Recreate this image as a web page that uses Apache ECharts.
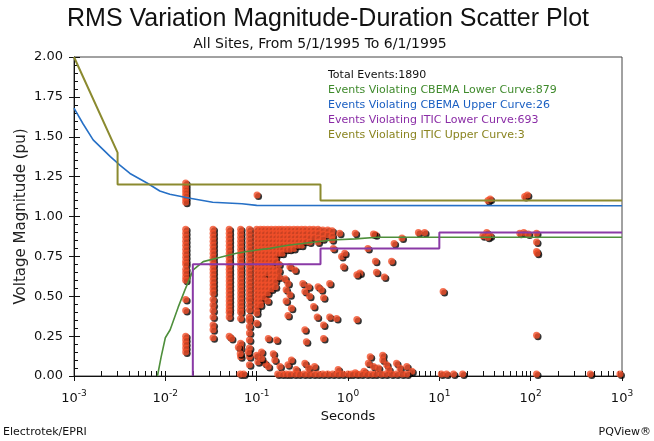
<!DOCTYPE html>
<html><head><meta charset="utf-8">
<script src="https://cdn.jsdelivr.net/npm/echarts@6/dist/echarts.min.js"></script>
<style>html,body{margin:0;padding:0;background:#fff}#c{width:654px;height:441px}</style>
</head><body><div id="c"></div>
<script>
// ---------- texts ----------
const titleText = 'RMS Variation Magnitude-Duration Scatter Plot';
const subtitleText = 'All Sites, From 5/1/1995 To 6/1/1995';
const summaryLines = [
  'Total Events:1890',
  'Events Violating CBEMA Lower Curve:879',
  'Events Violating CBEMA Upper Curve:26',
  'Events Violating ITIC Lower Curve:693',
  'Events Violating ITIC Upper Curve:3'
];
const summaryColors = ['#111111', '#3f8a2c', '#1a5fc2', '#8a2ca6', '#8a8420'];
const xTickExponents = ['-3', '-2', '-1', '0', '1', '2', '3'];
const yTickLabels = ['0.00', '0.25', '0.50', '0.75', '1.00', '1.25', '1.50', '1.75', '2.00'];

// ---------- tolerance curves [seconds, pu] ----------
const iticUpper = [[0.001, 2.0], [0.003, 1.4], [0.003, 1.2], [0.5, 1.2], [0.5, 1.1], [1000, 1.1]];
const iticLower = [[0.02, 0], [0.02, 0.7], [0.5, 0.7], [0.5, 0.8], [10, 0.8], [10, 0.9], [1000, 0.9]];
const cbemaUpper = [[0.001, 1.68], [0.00126, 1.58], [0.00162, 1.48], [0.0025, 1.375], [0.0032, 1.32],
  [0.0041, 1.27], [0.0063, 1.21], [0.0087, 1.16], [0.0112, 1.14], [0.0186, 1.114], [0.033, 1.089],
  [0.069, 1.08], [0.1, 1.07], [1000, 1.067]];
const cbemaLower = [[0.0082, 0], [0.009, 0.12], [0.01, 0.24], [0.0113, 0.29], [0.0138, 0.43],
  [0.0164, 0.54], [0.0202, 0.665], [0.026, 0.717], [0.04, 0.744], [0.06, 0.77], [0.1, 0.79],
  [0.14, 0.80], [0.22, 0.82], [0.66, 0.853], [1.2, 0.86], [2.1, 0.87], [1000, 0.87]];

// ---------- events: fixed-duration columns (seconds, magnitudes pu) ----------
const columnDurations = [0.0167, 0.0333, 0.05, 0.0667, 0.0833];
const col1CycleMags = [1.21, 1.19, 1.17, 1.15, 1.13, 1.11, 1.09,
  0.92, 0.895, 0.87, 0.845, 0.82, 0.795, 0.77, 0.745, 0.72, 0.70, 0.67, 0.645, 0.62, 0.60,
  0.48, 0.41, 0.25, 0.225, 0.20, 0.175, 0.15];
const col2CycleMags = [0.92, 0.895, 0.87, 0.845, 0.82, 0.795, 0.77, 0.745, 0.72, 0.695, 0.67, 0.645,
  0.62, 0.595, 0.57, 0.545, 0.52, 0.48, 0.445, 0.41, 0.37, 0.32, 0.29, 0.24];
const col3CycleMags = [0.92, 0.895, 0.87, 0.845, 0.82, 0.795, 0.77, 0.745, 0.72, 0.695, 0.67, 0.645,
  0.62, 0.595, 0.57, 0.545, 0.52, 0.495, 0.47, 0.445, 0.42, 0.40, 0.37, 0.25];
const col4CycleMags = [0.92, 0.895, 0.87, 0.845, 0.82, 0.795, 0.77, 0.745, 0.72, 0.695, 0.67, 0.645,
  0.62, 0.595, 0.57, 0.545, 0.52, 0.495, 0.47, 0.445, 0.42, 0.40, 0.36, 0.205, 0.175, 0.12];
const col5CycleMags = [0.92, 0.895, 0.87, 0.845, 0.82, 0.795, 0.77, 0.745, 0.72, 0.695, 0.67, 0.645,
  0.62, 0.595, 0.57, 0.545, 0.52, 0.495, 0.475, 0.445, 0.415, 0.37, 0.35, 0.31, 0.27, 0.225, 0.175, 0.12, 0.07];

// ---------- events: dense cluster (durations and magnitudes) ----------
const denseDurations = [0.10, 0.11, 0.12, 0.132, 0.145, 0.16, 0.175, 0.19, 0.21, 0.23, 0.255, 0.28,
  0.31, 0.34, 0.38, 0.42, 0.47, 0.53, 0.60, 0.67];
const denseMags = [
  [0.92, 0.895, 0.87, 0.845, 0.82, 0.795, 0.77, 0.745, 0.72, 0.695, 0.67, 0.645, 0.62, 0.595, 0.57, 0.545, 0.52, 0.495, 0.47, 0.445, 0.42, 0.395, 0.33],
  [0.92, 0.895, 0.87, 0.845, 0.82, 0.795, 0.77, 0.745, 0.72, 0.695, 0.67, 0.645, 0.62, 0.595, 0.57, 0.545, 0.52, 0.495, 0.47, 0.445],
  [0.92, 0.895, 0.87, 0.845, 0.82, 0.795, 0.77, 0.745, 0.72, 0.695, 0.67, 0.645, 0.62, 0.595, 0.57, 0.545, 0.52, 0.495],
  [0.92, 0.895, 0.87, 0.845, 0.82, 0.795, 0.77, 0.745, 0.72, 0.695, 0.67, 0.645, 0.595, 0.57, 0.545, 0.52, 0.47],
  [0.92, 0.895, 0.87, 0.845, 0.82, 0.795, 0.77, 0.745, 0.72, 0.695, 0.67, 0.645, 0.62, 0.595, 0.57, 0.545],
  [0.92, 0.895, 0.87, 0.845, 0.82, 0.795, 0.77, 0.745, 0.72, 0.67, 0.645, 0.62, 0.595, 0.56],
  [0.92, 0.895, 0.87, 0.845, 0.82, 0.795, 0.77, 0.70, 0.66, 0.62],
  [0.92, 0.895, 0.87, 0.845, 0.82, 0.795, 0.77],
  [0.92, 0.895, 0.87, 0.845, 0.82, 0.795],
  [0.92, 0.895, 0.87, 0.845, 0.82, 0.795],
  [0.92, 0.895, 0.87, 0.845, 0.82, 0.80],
  [0.92, 0.895, 0.87, 0.845, 0.82],
  [0.92, 0.895, 0.87, 0.845, 0.82],
  [0.92, 0.895, 0.87, 0.845],
  [0.92, 0.895, 0.87, 0.84],
  [0.92, 0.895, 0.87],
  [0.92, 0.895, 0.865, 0.84],
  [0.915, 0.89, 0.86],
  [0.915, 0.885],
  [0.91, 0.88, 0.855]
];

// ---------- events: individual scattered events [seconds, pu] ----------
const swellEvents = [[0.101, 1.135], [34, 1.10], [36, 1.11], [86, 1.125], [92, 1.135]];
const sagEvents = [
  [0.231, 0.685], [0.262, 0.665], [0.204, 0.61], [0.22, 0.58], [0.21, 0.54], [0.231, 0.51], [0.21, 0.47],
  [0.24, 0.425], [0.22, 0.38], [0.32, 0.58], [0.37, 0.56], [0.337, 0.53], [0.38, 0.50], [0.47, 0.56],
  [0.51, 0.54], [0.63, 0.58], [0.54, 0.49], [0.42, 0.435], [0.46, 0.37], [0.54, 0.32], [0.63, 0.37],
  [0.75, 0.36], [0.337, 0.29], [0.35, 0.215], [0.54, 0.235], [0.85, 0.75], [0.89, 0.685], [0.69, 0.80],
  [0.81, 0.895], [0.134, 0.235], [0.165, 0.225], [0.10, 0.13], [0.113, 0.15], [0.152, 0.14],
  [0.123, 0.08], [0.158, 0.10], [0.18, 0.06], [0.22, 0.07], [0.24, 0.10], [0.27, 0.04], [0.337, 0.08],
  [0.37, 0.05], [0.43, 0.06], [0.78, 0.04], [0.103, 0.09], [0.113, 0.11], [0.134, 0.06], [0.063, 0.18],
  [0.066, 0.14], [0.081, 0.15], [0.053, 0.235],
  [1.2, 0.895], [2.0, 0.885], [1.9, 0.89], [3.9, 0.865], [5.9, 0.90], [6.9, 0.90], [3.2, 0.83],
  [1.65, 0.80], [0.92, 0.77], [2.0, 0.72], [3.0, 0.72], [1.35, 0.645], [1.25, 0.635], [2.05, 0.65],
  [2.5, 0.62], [11.0, 0.53], [1.25, 0.355],
  [1.75, 0.12], [2.4, 0.13], [2.4, 0.10], [1.67, 0.08], [1.9, 0.06], [2.15, 0.05], [2.65, 0.07],
  [2.8, 0.04], [3.4, 0.08], [3.7, 0.05], [4.4, 0.06], [5.0, 0.03], [1.5, 0.03], [1.2, 0.02],
  [30, 0.88], [33, 0.90], [36, 0.88], [34, 0.87], [76, 0.895], [84, 0.90], [94, 0.89],
  [116, 0.895], [116, 0.84], [116, 0.78], [118, 0.77], [116, 0.255]
];
const interruptionDurations = [0.066, 0.072, 0.17, 0.19, 0.21, 0.23, 0.26, 0.29, 0.33, 0.37, 0.42, 0.47,
  0.53, 0.6, 0.68, 0.77, 0.87, 1.0, 1.1, 1.25, 1.4, 1.6, 1.8, 2.0, 2.3, 2.6, 3.0, 3.4, 3.9, 4.4,
  10.5, 12, 14.3, 18, 116, 450, 950];
const interruptionMag = 0.012;

// ---------- build event list ----------
const columnMags = [col1CycleMags, col2CycleMags, col3CycleMags, col4CycleMags, col5CycleMags];
const events = [];
columnDurations.forEach((d, i) => columnMags[i].forEach(v => events.push([d, v])));
denseDurations.forEach((d, i) => denseMags[i].forEach(v => events.push([d, v])));
swellEvents.forEach(p => events.push(p));
sagEvents.forEach(p => events.push(p));
interruptionDurations.forEach(d => events.push([d, interruptionMag]));

// minor tick positions (log decades 1..9) for the decoration axis
const minorTickPos = [];
for (let n = -3; n < 3; n++) for (let k = 1; k <= 9; k++) minorTickPos.push(n + Math.log10(k));
minorTickPos.push(3);

const FONT = '"Liberation Sans", Arial, sans-serif';
const WFONT = '"DejaVu Sans", Verdana, sans-serif';
const GRID = { left: 74, top: 57, width: 548, height: 319 };

const chart = echarts.init(document.getElementById('c'), null, { renderer: 'canvas' });
chart.setOption({
  animation: false,
  backgroundColor: '#ffffff',
  textStyle: { fontFamily: WFONT },
  grid: [
    Object.assign({ show: true, borderColor: '#444', borderWidth: 1, backgroundColor: 'transparent' }, GRID),
    Object.assign({ show: false }, GRID)
  ],
  xAxis: [
    {
      gridIndex: 0, type: 'log', logBase: 10, min: 0.001, max: 1000,
      name: 'Seconds', nameLocation: 'middle', nameGap: 31,
      nameTextStyle: { fontSize: 13, color: '#111', fontFamily: WFONT },
      axisLine: { onZero: false, lineStyle: { color: '#111', width: 1 } },
      axisTick: { show: true, inside: false, length: 5, lineStyle: { color: '#111' } },
      splitLine: { show: false }, minorTick: { show: false },
      axisLabel: {
        margin: 13, color: '#111', fontFamily: WFONT,
        formatter: function (v) {
          const idx = Math.round(Math.log10(v)) + 3;
          return '{b|10}{s|' + xTickExponents[idx] + '}';
        },
        rich: {
          b: { fontSize: 13, color: '#111', fontFamily: WFONT, verticalAlign: 'bottom', lineHeight: 16 },
          s: { fontSize: 9, color: '#111', fontFamily: WFONT, verticalAlign: 'top', lineHeight: 16, padding: [0, 0, 6, 0] }
        }
      }
    },
    {
      gridIndex: 1, type: 'value', min: -3, max: 3, show: true,
      axisLine: { show: false, onZero: false }, axisLabel: { show: false }, splitLine: { show: false },
      axisTick: { show: true, inside: true, length: 5, customValues: minorTickPos, lineStyle: { color: '#111' } }
    }
  ],
  yAxis: [
    {
      gridIndex: 0, type: 'value', min: 0, max: 2, interval: 0.25,
      name: 'Voltage Magnitude (pu)', nameLocation: 'middle', nameGap: 45, nameRotate: 90,
      nameMoveOverlap: false,
      nameTextStyle: { fontSize: 15, color: '#222', fontFamily: WFONT },
      axisLine: { show: true, onZero: false, lineStyle: { color: '#111', width: 1 } },
      axisTick: { show: true, inside: false, length: 5, lineStyle: { color: '#111' } },
      splitLine: { show: false },
      axisLabel: {
        margin: 11, fontSize: 13, color: '#111', fontFamily: WFONT,
        formatter: function (v) { return yTickLabels[Math.round(v / 0.25)]; }
      }
    },
    {
      gridIndex: 1, type: 'value', min: 0, max: 2, interval: 0.25, show: true,
      axisLine: { show: false, onZero: false }, axisLabel: { show: false }, splitLine: { show: false },
      axisTick: { show: true, inside: true, length: 6, lineStyle: { color: '#111' } },
      minorTick: { show: true, splitNumber: 5, length: 4, lineStyle: { color: '#111' } }
    }
  ],
  series: [
    {
      type: 'scatter', xAxisIndex: 0, yAxisIndex: 0, data: events, symbolSize: 7, z: 2,
      itemStyle: { color: '#f4502a', shadowColor: '#000', shadowOffsetX: 1.5, shadowOffsetY: 1.5, shadowBlur: 0 }
    },
    { type: 'line', data: cbemaLower, showSymbol: false, z: 3, lineStyle: { color: '#4e8f3b', width: 1.6 } },
    { type: 'line', data: cbemaUpper, showSymbol: false, z: 3, lineStyle: { color: '#2670c6', width: 1.6 } },
    { type: 'line', data: iticLower, showSymbol: false, z: 3, lineStyle: { color: '#8a3aa6', width: 2 } },
    { type: 'line', data: iticUpper, showSymbol: false, z: 3, lineStyle: { color: '#8b8a2f', width: 2 } },
    { type: 'scatter', xAxisIndex: 1, yAxisIndex: 1, data: [], silent: true }
  ],
  graphic: [
    { type: 'text', x: 328, y: 19, style: { text: titleText, font: '25px ' + FONT, fill: '#111', align: 'center', verticalAlign: 'middle' } },
    { type: 'text', x: 320, y: 44, style: { text: subtitleText, font: '14px ' + WFONT, fill: '#111', align: 'center', verticalAlign: 'middle' } },
    { type: 'text', x: 3, y: 432, style: { text: 'Electrotek/EPRI', font: '11px ' + WFONT, fill: '#111', align: 'left', verticalAlign: 'middle' } },
    { type: 'text', x: 651, y: 432, style: { text: 'PQView®', font: '11px ' + WFONT, fill: '#111', align: 'right', verticalAlign: 'middle' } }
  ].concat(summaryLines.map((t, i) => ({
    type: 'text', x: 328, y: 75 + i * 15,
    style: { text: t, font: '11px ' + WFONT, fill: summaryColors[i], align: 'left', verticalAlign: 'middle' }
  })))
});
</script>
</body></html>
